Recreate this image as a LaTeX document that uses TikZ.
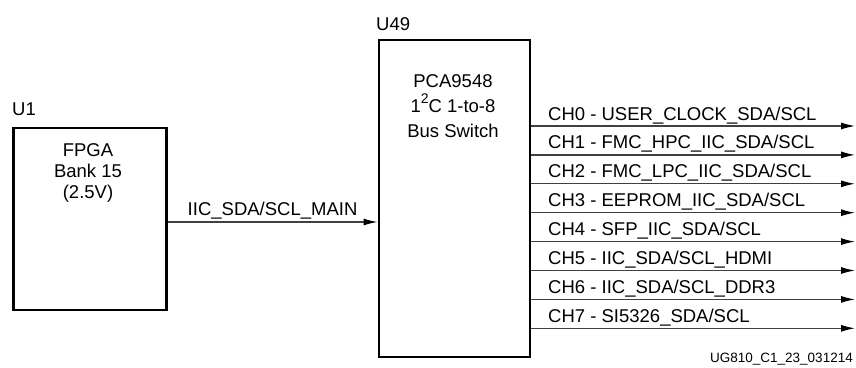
\documentclass[tikz,border=0pt]{standalone}
\usepackage{fontspec}
\setmainfont{Liberation Sans}
\usetikzlibrary{arrows.meta}

\begin{document}
\begin{tikzpicture}[x=1pt,y=-1pt,
	chip/.style={draw, line width=2.6pt, anchor=north west, inner sep=0pt},
	txt/.style={font=\fontsize{18.5}{21}\selectfont, inner sep=0pt},
	wire/.style={draw=black!75, line width=1.2pt, -{Latex[length=14pt,width=7pt,color=black]}}]
	\useasboundingbox (0,0) rectangle (856,367);
	% the two chips
	\node [chip, minimum width=153pt, minimum height=182pt] (u1) at (12,126.5) {};
	\node [chip, minimum width=151pt, minimum height=317pt] (u49) at (377.5,38.5) {};
	\node [txt, anchor=base west] (u1lbl) at (12,115) {U1};
	\node [txt, anchor=base west] (u49lbl) at (376,30) {U49};
	\node [txt, align=center, anchor=north] (fpga) at (88,143) {FPGA\\Bank 15\\(2.5V)};
	\node [txt, align=center, anchor=north, font=\fontsize{18.5}{25}\selectfont] (pca) at (453,74) {PCA9548\\1\raisebox{0.45em}{\fontsize{14}{14}\selectfont 2}C 1-to-8\\Bus Switch};
	% main bus
	\draw [wire] (u1.east |- 0,222) -- (u49.west |- 0,222) node [txt, midway, anchor=base, yshift=7pt] (mainlbl) {IIC\_SDA/SCL\_MAIN};
	% channels
	\foreach \lbl [count=\i from 0] in {USER\_CLOCK\_SDA/SCL, FMC\_HPC\_IIC\_SDA/SCL, FMC\_LPC\_IIC\_SDA/SCL, EEPROM\_IIC\_SDA/SCL, SFP\_IIC\_SDA/SCL, IIC\_SDA/SCL\_HDMI, IIC\_SDA/SCL\_DDR3, SI5326\_SDA/SCL} {
		\coordinate (ch\i) at (855,126+28.9*\i);
		\draw [wire] (u49.east |- ch\i) -- (ch\i);
		\node [txt, anchor=base west] (chlbl\i) at (548,120+28.9*\i) {CH\i{} - \lbl};
	}
	\node [anchor=base east, inner sep=0pt, font=\fontsize{13.5}{16}\selectfont] (fig) at (853,362) {UG810\_C1\_23\_031214};
\end{tikzpicture}
\end{document}
